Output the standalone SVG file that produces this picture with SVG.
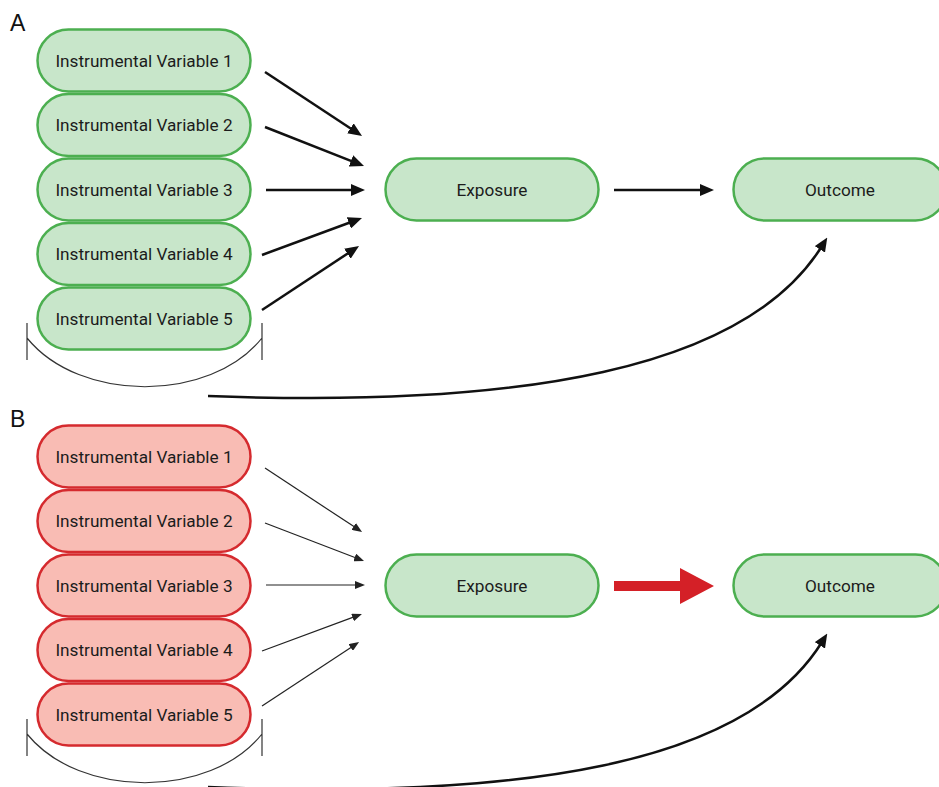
<svg xmlns="http://www.w3.org/2000/svg" width="939" height="787" viewBox="0 0 939 787">
<style>
.g{fill:#c8e6ca;stroke:#4caf50;stroke-width:2.5}
.r{fill:#f9bcb4;stroke:#d52a2e;stroke-width:2.5}
.t{font-family:Roboto,"Liberation Sans",sans-serif;font-size:17.2px;fill:#1c1c1c;text-anchor:middle;dominant-baseline:central}
.lab{font-family:"Liberation Sans",Arial,sans-serif;font-size:23px;fill:#111}
.a{stroke:#111;stroke-width:2.5;fill:none}
.b{stroke:#222;stroke-width:1.2;fill:none}
.br{stroke:#333;stroke-width:1.2;fill:none}
</style>
<defs>
<marker id="ha" markerUnits="userSpaceOnUse" markerWidth="14" markerHeight="12" refX="4" refY="6" orient="auto"><path d="M0,0 L14,6 L0,12 z" fill="#111"/></marker>
<marker id="hb" markerUnits="userSpaceOnUse" markerWidth="10" markerHeight="8" refX="3" refY="4" orient="auto"><path d="M0,0 L10,4 L0,8 z" fill="#222"/></marker>
</defs>
<text class="lab" x="10" y="31">A</text>
<text class="lab" x="10" y="427">B</text>
<g id="a-iv1"><rect class="g" x="37.5" y="29.5" width="213" height="62" rx="31"/><text class="t" x="144" y="60.5">Instrumental Variable 1</text></g>
<g id="a-iv2"><rect class="g" x="37.5" y="94" width="213" height="62" rx="31"/><text class="t" x="144" y="125">Instrumental Variable 2</text></g>
<g id="a-iv3"><rect class="g" x="37.5" y="158.5" width="213" height="62" rx="31"/><text class="t" x="144" y="189.5">Instrumental Variable 3</text></g>
<g id="a-iv4"><rect class="g" x="37.5" y="223" width="213" height="62" rx="31"/><text class="t" x="144" y="254">Instrumental Variable 4</text></g>
<g id="a-iv5"><rect class="g" x="37.5" y="287.5" width="213" height="62" rx="31"/><text class="t" x="144" y="318.5">Instrumental Variable 5</text></g>
<g id="a-exposure"><rect class="g" x="385.5" y="158.5" width="213" height="62" rx="31"/><text class="t" x="492" y="189.5">Exposure</text></g>
<g id="a-outcome"><rect class="g" x="733.5" y="158.5" width="213" height="62" rx="31"/><text class="t" x="840" y="189.5">Outcome</text></g>
<g id="b-iv1"><rect class="r" x="37.5" y="425.5" width="213" height="62" rx="31"/><text class="t" x="144" y="456.5">Instrumental Variable 1</text></g>
<g id="b-iv2"><rect class="r" x="37.5" y="490" width="213" height="62" rx="31"/><text class="t" x="144" y="521">Instrumental Variable 2</text></g>
<g id="b-iv3"><rect class="r" x="37.5" y="554.5" width="213" height="62" rx="31"/><text class="t" x="144" y="585.5">Instrumental Variable 3</text></g>
<g id="b-iv4"><rect class="r" x="37.5" y="619" width="213" height="62" rx="31"/><text class="t" x="144" y="650">Instrumental Variable 4</text></g>
<g id="b-iv5"><rect class="r" x="37.5" y="683.5" width="213" height="62" rx="31"/><text class="t" x="144" y="714.5">Instrumental Variable 5</text></g>
<g id="b-exposure"><rect class="g" x="385.5" y="554.5" width="213" height="62" rx="31"/><text class="t" x="492" y="585.5">Exposure</text></g>
<g id="b-outcome"><rect class="g" x="733.5" y="554.5" width="213" height="62" rx="31"/><text class="t" x="840" y="585.5">Outcome</text></g>
<g id="connectors">
<path class="a" marker-end="url(#ha)" d="M265,72 L353.7,130.5"/>
<path class="a" marker-end="url(#ha)" d="M265,127 L354.7,162.3"/>
<path class="a" marker-end="url(#ha)" d="M266,190 L355,190"/>
<path class="a" marker-end="url(#ha)" d="M262,255 L352.6,221.5"/>
<path class="a" marker-end="url(#ha)" d="M262,310 L350.7,251.5"/>
<path class="a" marker-end="url(#ha)" d="M614,190 L704,190"/>
<path class="br" d="M27,323 V360 M262,323 V360 M27,338 C80,403 210,403 262,338"/>
<path class="a" marker-end="url(#ha)" d="M208,396 C520,408 745,370 822,246"/>
<path class="b" marker-end="url(#hb)" d="M265,468 L356.2,528.1"/>
<path class="b" marker-end="url(#hb)" d="M265,523 L357.5,558.5"/>
<path class="b" marker-end="url(#hb)" d="M266,585 L358,585"/>
<path class="b" marker-end="url(#hb)" d="M262,651 L355.4,616.4"/>
<path class="b" marker-end="url(#hb)" d="M262,706 L353.2,645.9"/>
<path d="M614,581 H680 V568 L714,586 L680,604 V591 H614 Z" fill="#d42027"/>
<path class="br" d="M27,719 V756 M262,719 V756 M27,734 C80,799 210,799 262,734"/>
<path class="a" marker-end="url(#ha)" d="M208,787 C520,799 745,766 822,642"/>
</g>
</svg>
